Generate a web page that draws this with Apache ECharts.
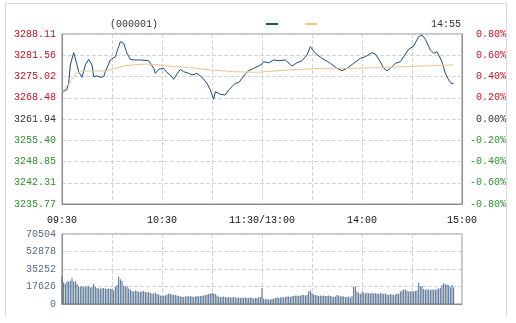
<!DOCTYPE html>
<html><head><meta charset="utf-8">
<script src="https://cdn.jsdelivr.net/npm/echarts@6/dist/echarts.min.js"></script>
<style>html,body{margin:0;padding:0;background:#fff}#c{width:516px;height:323px}</style>
</head><body><div id="c"></div>
<script>
// ---- data ----
const priceLabels = ['3235.77','3242.31','3248.85','3255.40','3261.94','3268.48','3275.02','3281.56','3288.11'];
const pctLabels = ['-0.80%','-0.60%','-0.40%','-0.20%','0.00%','0.20%','0.40%','0.60%','0.80%'];
const volLabelsMax = 70504, volStep = 17626;
const priceMin = 3235.77, priceMax = 3288.11;

const priceTimes = ['09:30','09:33','09:34','09:35','09:37','09:38','09:40','09:42','09:43','09:44','09:46','09:48','09:49','09:51','09:53','09:55','09:56','09:59','10:02','10:04','10:05','10:07','10:09','10:11','10:13','10:17','10:22','10:25','10:26','10:28','10:31','10:33','10:35','10:37','10:39','10:41','10:43','10:46','10:48','10:51','10:54','10:57','10:59','11:01','11:02','11:05','11:08','11:10','11:12','11:14','11:16','11:18','11:20','11:22','11:25','11:28','11:30','13:01','13:04','13:07','13:10','13:14','13:18','13:21','13:24','13:27','13:29','13:32','13:36','13:41','13:45','13:48','13:51','13:55','13:59','14:02','14:06','14:08','14:11','14:13','14:15','14:17','14:20','14:23','14:25','14:28','14:31','14:34','14:36','14:38','14:41','14:43','14:45','14:48','14:50','14:52','14:54','14:55'];
const prices = [3270.04,3271.08,3272.93,3278.57,3282.35,3280.63,3276.50,3274.78,3274.96,3278.57,3280.32,3278.57,3274.96,3275.20,3274.78,3274.96,3276.50,3280.11,3281.12,3284.20,3285.74,3285.25,3282.17,3280.32,3280.11,3280.11,3279.89,3277.55,3276.01,3277.24,3277.55,3276.20,3275.49,3274.16,3275.79,3277.24,3276.50,3276.01,3275.49,3276.01,3274.78,3272.93,3270.87,3268.01,3270.35,3269.54,3269.33,3270.87,3271.88,3272.93,3273.12,3274.47,3275.79,3276.81,3277.55,3278.26,3278.87,3279.58,3279.27,3280.11,3279.89,3280.11,3278.26,3279.27,3279.89,3281.64,3284.20,3282.17,3280.63,3279.09,3277.55,3276.81,3277.55,3279.09,3280.63,3281.12,3282.35,3281.95,3279.58,3277.55,3276.81,3277.55,3279.09,3279.58,3281.12,3283.40,3284.42,3287.28,3287.80,3286.48,3283.18,3282.17,3282.66,3279.58,3276.01,3273.95,3272.72,3272.93];

const avgTimes = ['09:30','09:35','09:38','09:41','09:47','09:56','10:08','10:17','10:23','10:33','10:45','10:59','11:13','11:27','13:16','13:36','13:56','14:16','14:36','14:55'];
const avgPrices = [3270.04,3273.42,3275.79,3276.50,3276.81,3276.70,3278.35,3278.78,3278.87,3278.26,3277.86,3277.03,3276.50,3276.32,3277.03,3277.55,3277.55,3277.86,3278.26,3278.57];

const volumes = [
28000,22000,20500,23000,22500,23500,26000,22500,23000,20500,
18000,17500,18000,17000,18000,17500,18000,16500,17000,20500,
17000,16000,15500,15500,15500,16000,15500,15000,15500,15000,
15000,13500,17000,19000,27500,25000,23500,18500,17500,18500,
15500,14500,13000,12500,13500,13000,12000,12500,12500,13000,
12000,11500,12000,11000,10500,10500,11500,10000,9500,8500,
8000,8500,8500,9500,10500,10000,9500,9000,9000,8500,
8000,7500,7500,7000,7500,8000,7500,8000,7500,7000,
7500,8000,7500,8000,8000,8500,9000,9500,10000,10500,
11000,10500,10000,8500,7500,7000,7000,7500,7000,6500,
7000,6500,6500,7000,6500,6000,6500,6000,6500,6000,
6500,6000,6000,6500,6000,5500,6000,6000,6500,7000,
16000,
5500,4500,5000,4500,4500,5000,5500,6000,6500,6000,
6500,7000,6500,7000,7500,7500,7000,8000,8000,8500,
8500,8000,8500,9000,9000,8500,9000,12500,13500,11000,
9500,9000,8500,8000,8500,8000,8500,8000,8000,8500,
8000,7500,7000,7500,9000,8500,7500,8000,7500,7000,
7000,7500,6500,8000,17500,17500,12500,11000,10000,12000,
11500,10500,11500,11000,10500,11000,10500,11000,10500,10000,
11000,10500,10000,10500,9500,9000,10000,9500,9000,9500,
10500,10000,12500,13500,14500,14500,13500,12500,12500,13000,
12500,13000,13500,21500,18000,18000,15000,14500,14500,14500,
14000,14500,14500,14000,15000,15500,16000,19000,21000,20000,
19500,19000,17000,19500,16500];

// trading minutes (categories)
function pad(n){return (n<10?'0':'')+n;}
const minutes = [];
for (let m=0;m<=120;m++){const t=9*60+30+m;minutes.push(pad(Math.floor(t/60))+':'+pad(t%60));}
for (let m=1;m<=120;m++){const t=13*60+m;minutes.push(pad(Math.floor(t/60))+':'+pad(t%60));}

const step = (priceMax-priceMin)/8;
const FONT = 'Liberation Mono';
const RED='#c8101e', GREEN='#2f8f2f', MID='#333';
function colorByIdx(i){return i>4?RED:(i<4?GREEN:MID);}
const dashed = {show:true,lineStyle:{color:'#d4d4d4',type:'dashed',width:1}};

const chart = echarts.init(document.getElementById('c'), null, {renderer:'canvas'});
chart.setOption({
  animation:false,
  backgroundColor:'#fff',
  textStyle:{fontFamily:FONT},
  graphic:[
    {type:'polyline',shape:{points:[[5.5,316],[5.5,3.5],[506.5,3.5],[506.5,316]]},style:{stroke:'#dcdcdc',fill:null,lineWidth:1},silent:true},
    {type:'text',left:110,top:19,style:{text:'(000001)',font:'10px '+FONT,fill:'#333'}},
    {type:'text',right:55,top:19,style:{text:'14:55',font:'10px '+FONT,fill:'#333'}}
  ],
  legend:{left:261,top:18,itemWidth:12,itemHeight:2,itemGap:27,icon:'rect',formatter:function(){return '';},
    data:['价格','均价'],textStyle:{fontSize:10}},
  grid:[
    {left:62,top:34,width:400,height:170,show:true,borderColor:'#8c8c8c',borderWidth:1,containLabel:false},
    {left:62,top:234,width:400,height:70,show:true,borderColor:'#8c8c8c',borderWidth:1,containLabel:false}
  ],
  xAxis:[
    {type:'category',gridIndex:0,data:minutes,boundaryGap:false,
     axisLine:{show:true,lineStyle:{color:'#8c8c8c'}},axisTick:{show:false},
     axisLabel:{interval:function(i){return i%60===0;},margin:11,color:'#111',fontSize:10,fontFamily:FONT,
       formatter:function(v,i){return i===120?'11:30/13:00':v;}},
     splitLine:{show:true,interval:function(i){return i%30===0;},lineStyle:{color:'#d4d4d4',type:'dashed'}}},
    {type:'category',gridIndex:1,data:minutes,boundaryGap:false,
     axisLine:{show:true,lineStyle:{color:'#8c8c8c'}},axisTick:{show:false},axisLabel:{show:false},
     splitLine:{show:true,interval:function(i){return i%30===0;},lineStyle:{color:'#d4d4d4',type:'dashed'}}}
  ],
  yAxis:[
    {type:'value',gridIndex:0,position:'left',min:0,max:priceMax-priceMin,interval:step,
     axisLine:{show:true,lineStyle:{color:'#8c8c8c'}},axisTick:{show:false},
     axisLabel:{margin:6,fontSize:10,fontFamily:FONT,
       formatter:function(v){return priceLabels[Math.round(v/step)];},
       color:function(v){return colorByIdx(Math.round(v/step));}},
     splitLine:dashed},
    {type:'value',gridIndex:0,position:'right',min:-80,max:80,interval:20,
     axisLine:{show:true,lineStyle:{color:'#8c8c8c'}},axisTick:{show:false},
     axisLabel:{margin:44,align:'right',fontSize:10,fontFamily:FONT,
       formatter:function(v){return pctLabels[Math.round((v+80)/20)];},
       color:function(v){return colorByIdx(Math.round((v+80)/20));}},
     splitLine:{show:false}},
    {type:'value',gridIndex:1,min:0,max:volLabelsMax,interval:volStep,
     axisLine:{show:true,lineStyle:{color:'#8c8c8c'}},axisTick:{show:false},
     axisLabel:{margin:6,fontSize:10,fontFamily:FONT,color:'#5a6c88',
       formatter:function(v){return String(Math.round(v));}},
     splitLine:dashed}
  ],
  series:[
    {name:'价格',type:'line',xAxisIndex:0,yAxisIndex:0,symbol:'none',
     lineStyle:{color:'#1b4b7c',width:1},itemStyle:{color:'#1b4b7c'},
     data:priceTimes.map(function(t,i){return [t, prices[i]-priceMin];})},
    {name:'均价',type:'line',xAxisIndex:0,yAxisIndex:0,symbol:'none',
     lineStyle:{color:'#efc38e',width:1},itemStyle:{color:'#efc38e'},
     data:avgTimes.map(function(t,i){return [t, avgPrices[i]-priceMin];})},
    {name:'成交量',type:'bar',xAxisIndex:1,yAxisIndex:2,barWidth:1,
     itemStyle:{color:'#4e6d8e'},data:volumes}
  ]
});
</script></body></html>
